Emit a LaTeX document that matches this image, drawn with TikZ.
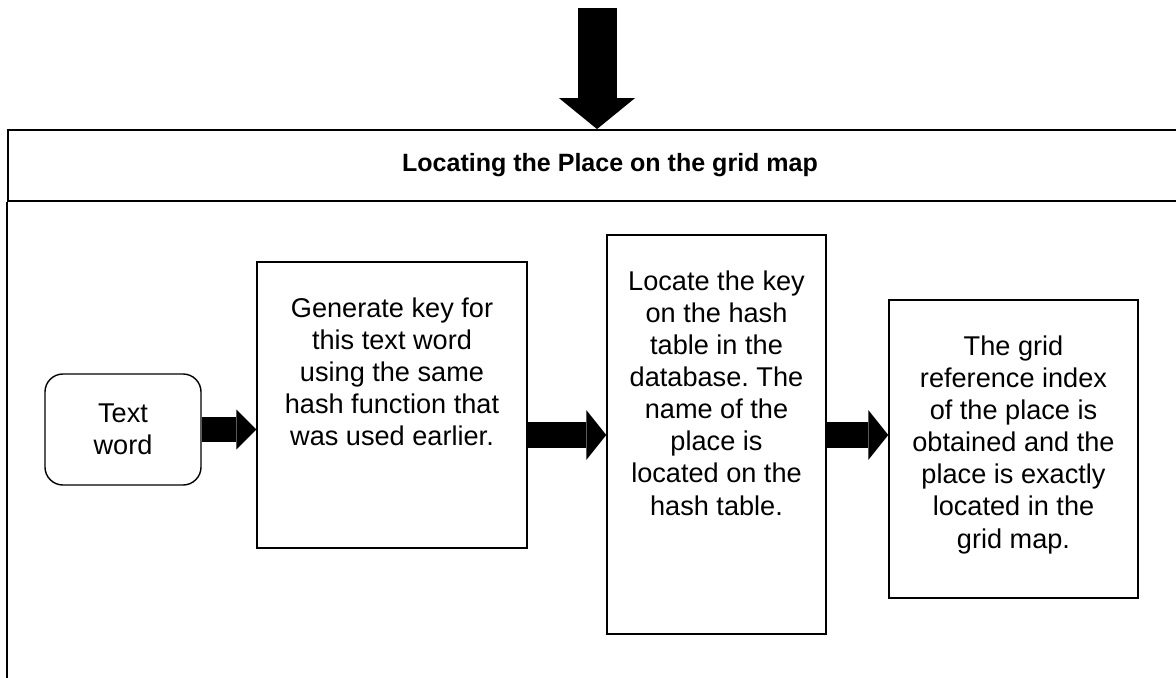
\documentclass[tikz,border=0pt]{standalone}
\usepackage{fontspec}
\setmainfont{Liberation Sans}
\usetikzlibrary{arrows.meta,positioning,calc}
\frenchspacing

\newcommand{\boxtxt}[3]{\parbox[c][#2][t]{#1}{\vspace*{0.9cm}\centering #3}}

\begin{document}
\begin{tikzpicture}[x=0.025cm,y=-0.025cm,
  font=\fontsize{19.3}{22.8}\selectfont,
  stage/.style={draw,line width=1pt,inner sep=0pt},
  start/.style={stage,rounded corners=0.45cm,minimum width=3.9cm,minimum height=2.775cm,align=center},
  pointer/.style={line width=0.63cm,-{Triangle[length=0.5cm,width=#1,line width=0pt]}},
  frame/.style={line width=1.3pt}]
  \useasboundingbox (0,0) rectangle (1176,677);
  \clip (0,0) rectangle (1176,677);
  % frame with its header
  \node[draw,frame,minimum width=30.1cm,minimum height=1.775cm,font=\fontsize{17.8}{21}\selectfont\bfseries] (head) at (610,165.5) {Locating the Place on the grid map};
  \draw[frame] (head.south west) -- ++(0,500);
  \coordinate (src) at (597,8);
  \draw[line width=0.975cm,-{Triangle[length=0.775cm,width=1.9cm,line width=0pt]}] (src) -- (src |- head.north);

  \node[start] (word) at (123,429.5) {Text\\word};
  \node[stage] (gen) at (392,405) {\boxtxt{6.75cm}{7.15cm}{Generate key for\\this text word\\using the same\\hash function that\\was used earlier.}};
  \node[stage] (loc) at (716.5,434.5) {\boxtxt{5.475cm}{9.975cm}{Locate the key\\on the hash\\table in the\\database. The\\name of the\\place is\\located on the\\hash table.}};
  \node[stage] (grid) at (1013.5,449) {\boxtxt{6.225cm}{7.45cm}{The grid\\reference index\\of the place is\\obtained and the\\place is exactly\\located in the\\grid map.}};

  \coordinate (lvl) at (0,435);
  \draw[pointer=1cm] (word) -- (gen.west |- word);
  \draw[pointer=1.25cm] (gen.east |- lvl) -- (loc.west |- lvl);
  \draw[pointer=1.25cm] (loc.east |- lvl) -- (grid.west |- lvl);
\end{tikzpicture}
\end{document}
